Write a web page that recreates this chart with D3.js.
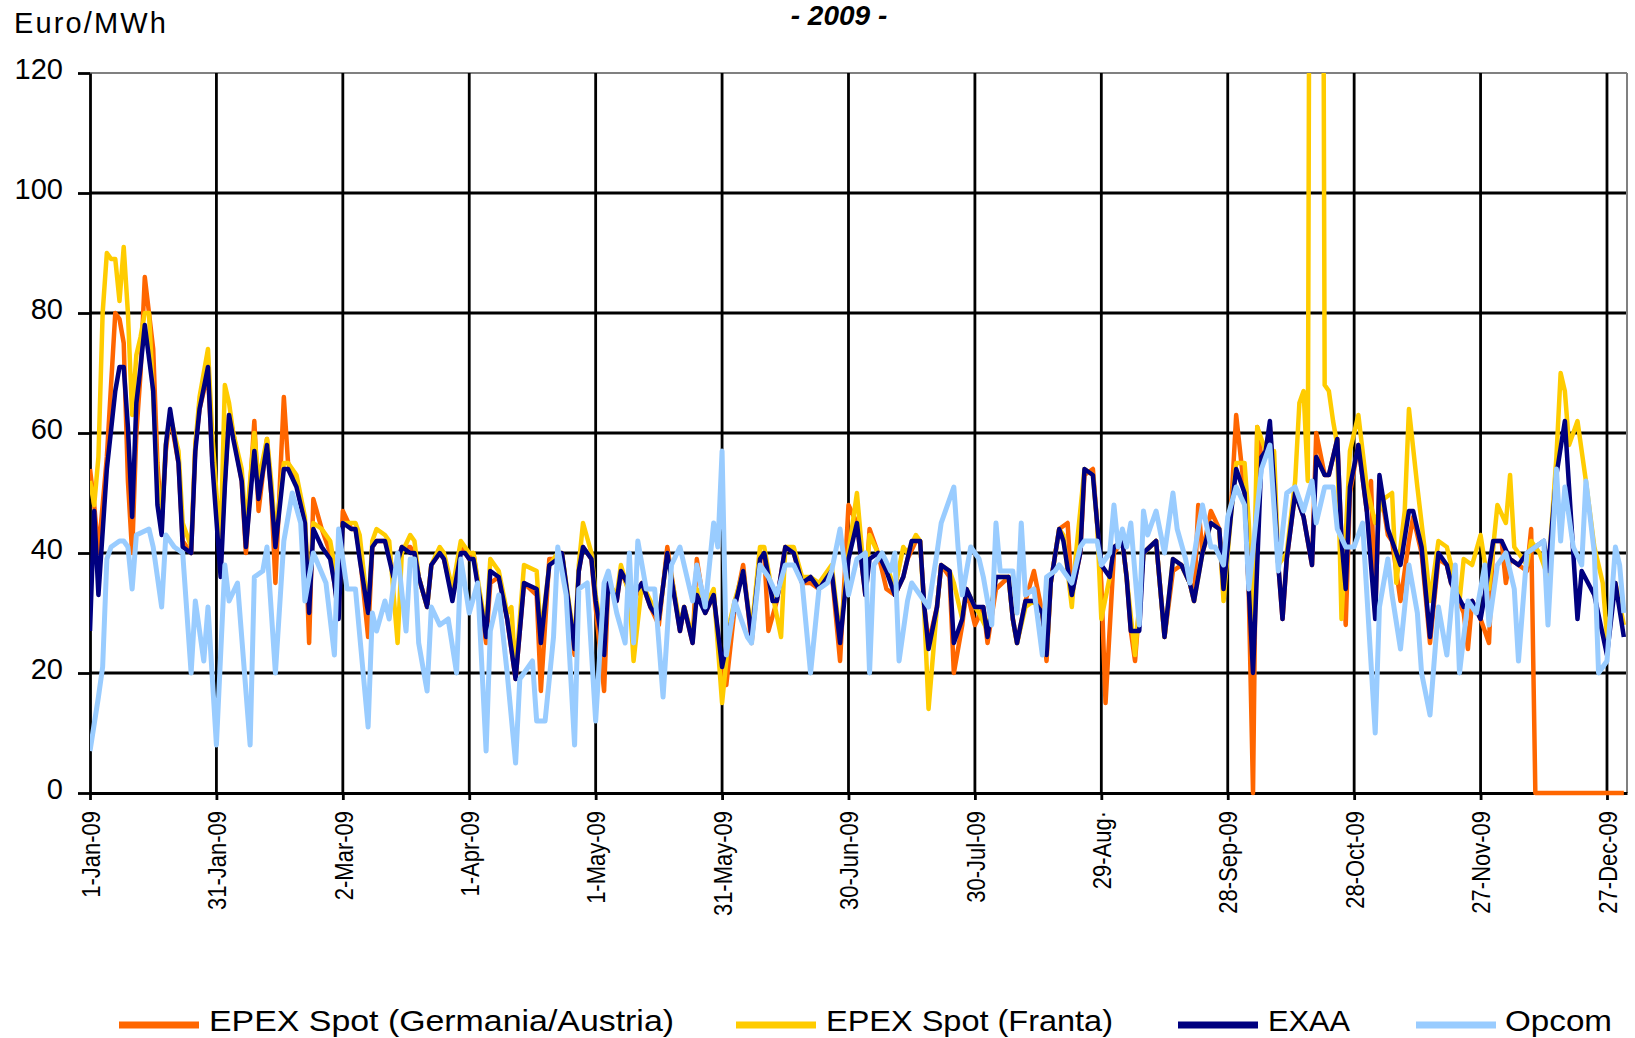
<!DOCTYPE html>
<html>
<head>
<meta charset="utf-8">
<script src="https://cdn.jsdelivr.net/npm/d3@7"></script>
<style>
  body { margin: 0; background: #fff; }
  svg { display: block; font-family: "Liberation Sans", Arial, sans-serif; }
</style>
</head>
<body>
<div id="chart"></div>
<script>
// Daily spot prices 2009 as [day of year (0 = 1 Jan), Euro/MWh]
const epexDE = [[0,54],[1,48],[2,40],[4,56],[6,80],[7,79],[8,75],[9,52],[10,40],[11,60],[12,70],[13,86],[15,74],[16,55],[17,45],[18,57],[19,63],[21,55],[22,42],[24,40],[25,58],[26,64],[28,70],[29,56],[31,40],[32,52],[33,63],[34,60],[36,52],[37,40],[39,62],[40,47],[42,59],[43,50],[44,35],[46,66],[47,55],[49,52],[51,45],[52,25],[53,49],[55,44],[57,40],[58,35],[59,30],[60,47],[62,44],[63,44],[64,40],[66,26],[67,41],[68,42],[70,42],[71,40],[72,36],[74,41],[76,41],[77,40],[78,36],[80,31],[81,38],[83,40],[84,39],[86,33],[88,41],[89,40],[90,39],
  [91,40],[94,25],[95,35],[97,36],[99,29],[101,19],[103,35],[106,33],[107,17],[109,39],[111,39],[112,40],[115,23],[116,37],[117,41],[119,39],[120,31],[122,17],[123,35],[125,32],[126,37],[129,32],[131,35],[133,31],[135,28],[137,41],[140,27],[141,31],[143,25],[144,39],[146,30],[148,33],[150,20],[151,18],[153,31],[155,38],[157,25],[159,39],[160,40],[161,27],[163,32],[165,41],[167,40],[169,35],[171,35],[173,34],[176,37],[178,22],[180,48],[182,45],
  [184,33],[185,44],[187,40],[189,34],[191,33],[193,36],[194,39],[196,42],[197,42],[198,31],[199,25],[201,31],[202,38],[204,36],[205,20],[207,28],[208,34],[210,28],[212,31],[213,25],[215,34],[218,36],[219,29],[220,25],[222,32],[224,37],[226,30],[227,22],[228,35],[230,44],[232,45],[233,33],[235,40],[236,53],[238,54],[239,45],[240,35],[241,15],[243,40],[245,42],[246,36],[247,27],[248,22],[250,40],[253,42],[255,26],[257,37],[259,38],[261,35],[262,32],[263,48],[264,40],[266,47],[268,44],[269,33],[271,50],[272,63],[274,50],
  [275,33],[276,0],[277,61],[278,56],[279,57],[280,61],[281,50],[282,38],[283,29],[284,39],[286,50],[288,46],[290,38],[291,60],[293,53],[294,53],[296,59],[297,42],[298,28],[299,50],[301,58],[303,47],[304,52],[305,30],[306,52],[308,43],[309,42],[311,32],[313,42],[314,46],[316,40],[318,25],[320,39],[322,38],[323,35],[326,30],[327,24],[328,32],[330,29],[332,25],[333,42],[335,42],[336,35],[337,39],[339,38],[341,37],[342,44],[343,0],[364,0]]

const epexFR = [[0,52],[1,48],[2,56],[3,80],[4,90],[5,89],[6,89],[7,82],[8,91],[9,80],[10,63],[11,73],[12,76],[13,80],[14,80],[15,66],[16,52],[17,46],[18,58],[19,63],[21,57],[22,45],[24,41],[25,58],[26,66],[28,74],[29,60],[30,50],[31,42],[32,68],[33,65],[34,60],[36,54],[37,44],[39,60],[40,52],[42,59],[43,52],[44,43],[46,55],[47,55],[49,53],[51,46],[52,32],[53,45],[55,44],[57,42],[58,38],[59,32],[60,45],[62,45],[63,45],[64,43],[66,30],[67,42],[68,44],[70,43],[71,42],[73,25],[74,40],[76,43],[77,42],[78,36],[80,31],[81,38],[83,41],[84,40],[86,34],[88,42],[89,41],[90,40],
  [91,40],[94,27],[95,39],[97,37],[99,30],[100,31],[101,20],[103,38],[106,37],[107,26],[109,38],[111,40],[112,40],[115,25],[116,38],[117,45],[119,40],[120,33],[122,24],[123,35],[125,33],[126,38],[128,33],[129,22],[131,35],[133,32],[135,29],[137,40],[140,28],[141,31],[143,26],[144,34],[146,31],[148,34],[150,15],[152,29],[153,32],[155,37],[157,27],[159,41],[160,41],[162,33],[164,26],[165,41],[167,41],[169,36],[171,36],[173,35],[176,38],[178,26],[180,40],[182,50],
  [184,34],[185,43],[187,40],[189,38],[191,34],[193,41],[194,40],[196,43],[197,42],[198,30],[199,14],[201,31],[202,38],[204,37],[205,35],[207,29],[208,34],[210,31],[211,30],[213,27],[215,36],[218,36],[219,29],[220,25],[222,31],[224,32],[226,30],[227,23],[228,35],[230,44],[231,43],[233,31],[234,40],[236,54],[238,53],[239,45],[240,29],[242,36],[243,41],[245,42],[246,36],[248,23],[250,40],[253,42],[255,26],[257,39],[259,38],[261,35],[262,32],[264,40],[266,45],[268,44],[269,32],[271,48],[272,55],[274,55],
  [275,45],[276,28],[277,61],[279,57],[281,57],[282,38],[284,40],[286,52],[287,65],[288,67],[289,52],[290,300],[291,250],[292,300],[293,68],[294,67],[295,62],[296,58],[297,29],[299,57],[301,63],[303,51],[305,45],[307,49],[309,50],[310,35],[312,47],[313,64],[315,51],[317,39],[318,32],[320,42],[322,41],[325,32],[326,39],[328,38],[330,43],[332,34],[334,48],[336,45],[337,53],[338,41],[341,38],[342,42],[344,40],[346,36],[348,56],[349,70],[350,67],[351,58],[353,62],[355,52],[357,41],[359,35],[360,26],[362,35],[364,28]]

const exaa = [[0,27],[1,47],[2,33],[4,54],[6,67],[7,71],[8,71],[9,61],[10,46],[11,65],[12,71],[13,78],[15,67],[16,48],[17,43],[18,58],[19,64],[21,55],[22,41],[24,40],[25,57],[26,64],[28,71],[29,55],[31,36],[32,51],[33,63],[34,59],[36,52],[37,41],[39,57],[40,49],[42,58],[43,50],[44,41],[46,54],[47,54],[49,51],[51,45],[52,30],[53,44],[55,41],[57,39],[58,35],[59,29],[60,45],[62,44],[63,44],[64,39],[66,30],[67,41],[68,42],[70,42],[71,39],[72,36],[74,41],[76,40],[77,40],[78,36],[80,31],[81,38],[83,40],[84,39],[86,32],[88,40],[89,40],[90,39],
  [91,39],[94,26],[95,37],[97,36],[99,29],[101,19],[103,35],[106,34],[107,25],[109,38],[111,39],[112,40],[115,24],[116,37],[117,41],[119,39],[120,32],[122,23],[123,35],[125,32],[126,37],[129,33],[131,35],[133,31],[135,29],[137,40],[140,27],[141,31],[143,25],[144,33],[146,30],[148,33],[150,21],[152,28],[153,31],[155,37],[157,26],[159,39],[160,40],[162,32],[163,32],[165,41],[167,40],[169,35],[171,36],[173,34],[176,37],[178,25],[180,39],[182,45],
  [184,33],[185,39],[187,40],[189,37],[191,33],[193,36],[194,39],[195,42],[197,42],[198,31],[199,24],[201,31],[202,38],[204,37],[205,25],[207,29],[208,34],[210,31],[212,31],[213,26],[215,36],[218,36],[219,29],[220,25],[222,32],[224,32],[226,30],[227,23],[228,35],[230,44],[231,42],[233,33],[235,40],[236,54],[238,53],[239,45],[240,38],[242,36],[243,41],[245,42],[246,36],[247,27],[249,27],[250,40],[253,42],[255,26],[257,39],[259,38],[261,35],[262,32],[264,40],[266,45],[268,44],[269,34],[271,48],[272,54],[274,50],
  [275,34],[276,20],[278,56],[279,57],[280,62],[281,51],[282,38],[283,29],[284,39],[286,50],[288,46],[290,38],[291,56],[293,53],[294,53],[296,59],[297,42],[298,34],[299,51],[301,58],[303,47],[305,29],[306,53],[308,44],[309,42],[311,38],[313,47],[314,47],[316,41],[318,26],[320,40],[322,38],[323,35],[326,31],[328,32],[330,29],[331,33],[333,42],[335,42],[337,39],[339,38],[341,40],[343,41],[345,42],[346,37],[348,53],[350,62],[351,51],[353,29],[354,37],[357,33],[360,23],[362,35],[364,26]]

const opcom = [[0,7],[2,16],[3,21],[4,39],[5,41],[7,42],[8,42],[9,41],[10,34],[11,43],[14,44],[15,41],[17,31],[18,43],[20,41],[22,40],[24,20],[25,32],[27,22],[28,31],[30,8],[32,38],[33,32],[35,35],[38,8],[39,36],[41,37],[42,41],[44,20],[46,42],[48,50],[50,45],[51,32],[53,40],[56,35],[58,23],[59,44],[61,34],[63,34],[66,11],[67,30],[68,27],[70,32],[71,29],[73,40],[75,27],[76,39],[77,39],[78,25],[80,17],[81,31],[83,28],[85,29],[87,20],[88,39],[90,30],
  [92,35],[94,7],[95,27],[97,33],[99,20],[101,5],[102,19],[105,22],[106,12],[108,12],[110,26],[111,41],[113,33],[115,8],[116,34],[118,35],[120,12],[122,35],[123,37],[125,30],[127,25],[128,40],[129,25],[130,42],[132,34],[134,34],[136,16],[138,38],[140,41],[142,35],[143,32],[144,38],[146,31],[148,45],[149,41],[150,57],[151,23],[153,32],[156,26],[157,25],[159,38],[161,36],[163,33],[165,38],[167,38],[169,35],[171,20],[173,34],[175,35],[176,37],[178,44],[180,33],[182,39],
  [184,40],[185,20],[186,38],[188,40],[190,37],[191,40],[192,22],[194,32],[195,35],[197,33],[199,31],[201,40],[202,45],[205,51],[206,41],[207,33],[209,41],[211,39],[212,36],[214,28],[215,45],[216,37],[219,37],[220,30],[221,45],[222,33],[224,34],[226,23],[227,36],[229,37],[230,38],[231,37],[233,35],[235,41],[236,42],[239,42],[240,38],[242,40],[243,48],[244,41],[245,44],[246,41],[247,45],[249,28],[250,47],[251,43],[253,47],[255,40],[257,50],[258,44],[260,39],[261,35],[263,44],[264,48],[266,41],[267,41],[269,38],[270,46],[272,51],[274,48],
  [275,34],[278,54],[280,58],[282,37],[284,50],[286,51],[288,47],[290,52],[291,45],[293,51],[295,51],[296,44],[298,41],[300,41],[302,45],[305,10],[306,31],[308,39],[309,33],[311,24],[313,38],[315,30],[316,20],[318,13],[320,31],[322,23],[324,38],[325,20],[327,32],[329,30],[331,38],[332,28],[334,38],[336,40],[338,34],[339,22],[341,40],[343,41],[345,42],[346,28],[348,54],[349,42],[350,51],[352,41],[354,38],[355,52],[357,40],[358,20],[360,22],[362,41],[363,38],[364,30]]

const seriesNames = ["EPEX Spot (Germania/Austria)", "EPEX Spot (Franta)", "EXAA", "Opcom"]
const seriesData = [epexDE, epexFR, exaa, opcom]
const seriesColors = ["#ff6600", "#ffcc00", "#000080", "#99ccff"]

const tickDays = [0, 30, 60, 90, 120, 150, 180, 210, 240, 270, 300, 330, 360]
const tickLabels = ["1-Jan-09", "31-Jan-09", "2-Mar-09", "1-Apr-09", "1-May-09", "31-May-09", "30-Jun-09",
  "30-Jul-09", "29-Aug·", "28-Sep-09", "28-Oct-09", "27-Nov-09", "27-Dec-09"]
const yTicks = [0, 20, 40, 60, 80, 100, 120]

// Dimensions
const dimensions = {
    width: 1635,
    height: 1038,
    margins: { top: 73, right: 8, left: 90, bottom: 245 }
}
dimensions.boundedWidth = dimensions.width - dimensions.margins.left - dimensions.margins.right
dimensions.boundedHeight = dimensions.height - dimensions.margins.top - dimensions.margins.bottom

const start = Date.UTC(2009, 0, 1)
const dayToDate = d => new Date(start + d * 864e5)

const wrapper = d3.select("#chart").append("svg")
    .attr("width", dimensions.width)
    .attr("height", dimensions.height)

const bounds = wrapper.append("g")
    .attr("transform", `translate(${dimensions.margins.left},${dimensions.margins.top})`)

// Scales
const xScale = d3.scaleUtc()
    .domain([dayToDate(0), dayToDate(364.75)])
    .range([0, dimensions.boundedWidth])

const yScale = d3.scaleLinear()
    .domain([0, 120])
    .range([dimensions.boundedHeight, 0])

// Grid
bounds.append("g")
    .selectAll("line")
    .data(yTicks.filter(v => v > 0))
    .join("line")
    .attr("x1", 0).attr("x2", dimensions.boundedWidth)
    .attr("y1", d => yScale(d)).attr("y2", d => yScale(d))
    .attr("stroke", d => d === 120 ? "#808080" : "#000")
    .attr("stroke-width", d => d === 120 ? 2 : 2.8)

bounds.append("g")
    .selectAll("line")
    .data(tickDays.filter(d => d > 0))
    .join("line")
    .attr("x1", d => xScale(dayToDate(d))).attr("x2", d => xScale(dayToDate(d)))
    .attr("y1", 0).attr("y2", dimensions.boundedHeight)
    .attr("stroke", "#000")
    .attr("stroke-width", 2.8)

bounds.append("line")
    .attr("x1", dimensions.boundedWidth).attr("x2", dimensions.boundedWidth)
    .attr("y1", 0).attr("y2", dimensions.boundedHeight)
    .attr("stroke", "#808080")
    .attr("stroke-width", 2)

// Axes
const yAxis = bounds.append("g")
    .call(d3.axisLeft(yScale).tickValues(yTicks).tickSize(12).tickSizeOuter(0).tickPadding(15))
yAxis.select(".domain").attr("stroke", "#000").attr("stroke-width", 2.8)
yAxis.selectAll(".tick line").attr("stroke", "#000").attr("stroke-width", 2.8)
yAxis.selectAll(".tick text")
    .attr("font-size", 29)
    .attr("font-family", "Liberation Sans, Arial, sans-serif")
    .attr("fill", "#000")
    .attr("dy", "0.3em")
    .attr("y", -3)

const xAxis = bounds.append("g")
    .attr("transform", `translate(0,${dimensions.boundedHeight})`)
    .call(d3.axisBottom(xScale)
        .tickValues(tickDays.map(dayToDate))
        .tickSize(7)
        .tickSizeOuter(0)
        .tickFormat((d, i) => tickLabels[i]))
xAxis.select(".domain").attr("stroke", "#000").attr("stroke-width", 2.8)
xAxis.selectAll(".tick line").attr("stroke", "#000").attr("stroke-width", 2.8)
xAxis.selectAll(".tick text")
    .attr("font-size", 22)
    .attr("font-family", "Liberation Sans, Arial, sans-serif")
    .attr("fill", "#000")
    .attr("x", 0).attr("y", 0)
    .attr("dy", "0.35em")
    .attr("text-anchor", "end")
    .attr("transform", "translate(0,18) scale(1.2,1) rotate(-90)")

// Lines
bounds.append("clipPath").attr("id", "plot-clip")
    .append("rect")
    .attr("x", 0).attr("y", 0)
    .attr("width", dimensions.boundedWidth)
    .attr("height", dimensions.boundedHeight + 6)

const lineGenerator = d3.line()
    .x(d => xScale(dayToDate(d[0])))
    .y(d => yScale(d[1]))

const lines = bounds.append("g").attr("clip-path", "url(#plot-clip)")
seriesData.forEach((data, i) => {
    lines.append("path")
        .attr("d", lineGenerator(data))
        .attr("fill", "none")
        .attr("stroke", seriesColors[i])
        .attr("stroke-width", i === 3 ? 5 : 4.5)
        .attr("stroke-linejoin", "round")
})

// Titles
wrapper.append("text")
    .attr("x", 14).attr("y", 33)
    .attr("font-size", 29)
    .attr("textLength", 152)
    .text("Euro/MWh")

wrapper.append("text")
    .attr("x", 839).attr("y", 25)
    .attr("text-anchor", "middle")
    .attr("font-size", 28)
    .attr("font-weight", "bold")
    .attr("font-style", "italic")
    .text("- 2009 -")

// Legend
const legendLines = [119, 736, 1178, 1416]
const legendTextX = [209, 826, 1268, 1505]
const legendTextW = [465, 287, 82, 107]
const legend = wrapper.append("g")
seriesNames.forEach((name, i) => {
    legend.append("line")
        .attr("x1", legendLines[i]).attr("x2", legendLines[i] + 80)
        .attr("y1", 1025).attr("y2", 1025)
        .attr("stroke", seriesColors[i])
        .attr("stroke-width", 7)
    legend.append("text")
        .attr("x", legendTextX[i]).attr("y", 1031)
        .attr("font-size", 30)
        .attr("textLength", legendTextW[i])
        .attr("lengthAdjust", "spacingAndGlyphs")
        .text(name)
})
</script>
</body>
</html>
